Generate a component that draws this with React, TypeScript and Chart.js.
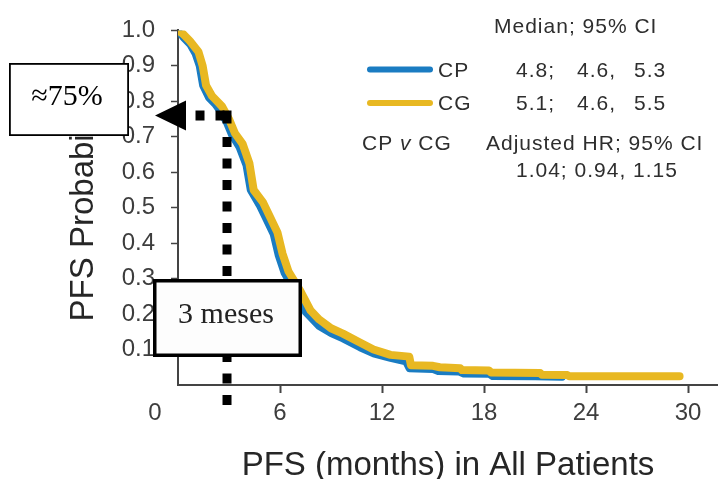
import React, { useEffect, useRef } from 'react';
import { Chart, registerables } from 'chart.js';

Chart.register(...registerables);

// ---- data ----
const CP_MONTHS = [0, 0.3, 0.7, 1.0, 1.25, 1.45, 1.8, 2.2, 2.5, 2.85, 3.15, 3.6, 4.0, 4.25, 4.8, 5.1, 5.6, 5.9, 6.25, 6.9, 7.5, 8.3, 9.0, 9.7, 10.7, 11.5, 12.5, 13.4, 13.6, 15.0, 15.3, 16.5, 16.8, 18.3, 18.5, 21.0, 22.6];
const CP_PFS = [1.0, 0.98, 0.96, 0.935, 0.9, 0.845, 0.81, 0.79, 0.77, 0.74, 0.705, 0.67, 0.62, 0.55, 0.505, 0.475, 0.425, 0.365, 0.315, 0.26, 0.205, 0.165, 0.145, 0.13, 0.105, 0.088, 0.075, 0.065, 0.046, 0.044, 0.038, 0.037, 0.031, 0.03, 0.024, 0.023, 0.022];

const CG_MONTHS = [0, 0.3, 0.7, 1.2, 1.45, 1.65, 2.0, 2.3, 2.6, 3.0, 3.35, 3.8, 4.2, 4.45, 5.0, 5.3, 5.85, 6.15, 6.5, 7.2, 7.8, 8.3, 9.0, 9.7, 10.7, 11.5, 12.5, 13.6, 13.7, 15.0, 15.4, 16.6, 16.7, 18.3, 18.4, 21.3, 21.4, 22.9, 23.0, 29.5];
const CG_PFS = [1.0, 0.99, 0.97, 0.94, 0.9, 0.845, 0.815, 0.8, 0.785, 0.75, 0.71, 0.68, 0.625, 0.55, 0.515, 0.485, 0.43, 0.37, 0.32, 0.265, 0.21, 0.185, 0.16, 0.145, 0.12, 0.1, 0.085, 0.08, 0.056, 0.054, 0.05, 0.047, 0.042, 0.041, 0.035, 0.034, 0.029, 0.028, 0.025, 0.025];

const X_TICKS = [0, 6, 12, 18, 24, 30];
const Y_TICKS = [0.1, 0.2, 0.3, 0.4, 0.5, 0.6, 0.7, 0.8, 0.9, 1.0];
const X_TITLE = 'PFS (months) in All Patients';
const Y_TITLE = 'PFS Probability';

const SERIES_NAMES = ['CP', 'CG'];
const MEDIAN_HEADER = 'Median; 95% CI';
const CP_MEDIAN = ['4.8;', '4.6,', '5.3'];
const CG_MEDIAN = ['5.1;', '4.6,', '5.5'];
const HR_HEADER = 'Adjusted HR; 95% CI';
const HR_VALUES = '1.04; 0.94, 1.15';

const MARK_MONTH = 3;
const MARK_PROB = 0.76;
const MARK_PROB_LABEL = '≈75%';
const MARK_MONTH_LABEL = '3 meses';

const BLUE = '#1a7cc2';
const GOLD = '#e8b822';
const AXIS = '#444444';
const TXT = '#2e2e2e';
const SANS = '"Liberation Sans", Arial, Helvetica, sans-serif';
const SERIF = '"Liberation Serif", "Times New Roman", serif';

const X_TICK_LEN = 8;
const X_TICK_PAD = 6;
const TICK_FONT = 24;

const overlayPlugin = {
  id: 'overlay',
  afterDraw(chart: any) {
    const { ctx, scales } = chart;
    const x = scales.x;
    const y = scales.y;
    ctx.save();

    // "0" label placed at the corner, left of the origin
    ctx.font = `${TICK_FONT}px ${SANS}`;
    ctx.fillStyle = '#3d3d3d';
    ctx.textAlign = 'center';
    ctx.textBaseline = 'middle';
    ctx.fillText(String(X_TICKS[0]), x.getPixelForValue(0) - 23, x.top + X_TICK_LEN + X_TICK_PAD + TICK_FONT * 0.6);

    // legend block
    (ctx as any).letterSpacing = '1px';
    ctx.font = `21px ${SANS}`;
    ctx.fillStyle = TXT;
    ctx.textAlign = 'left';
    ctx.textBaseline = 'alphabetic';
    ctx.fillText(MEDIAN_HEADER, 494, 33);

    ctx.lineCap = 'round';
    ctx.lineWidth = 6;
    ctx.strokeStyle = BLUE;
    ctx.beginPath(); ctx.moveTo(370, 69.5); ctx.lineTo(430, 69.5); ctx.stroke();
    ctx.strokeStyle = GOLD;
    ctx.beginPath(); ctx.moveTo(370, 103); ctx.lineTo(430, 103); ctx.stroke();

    ctx.fillText(SERIES_NAMES[0], 438, 77);
    ctx.fillText(SERIES_NAMES[1], 438, 110);
    const cols = [516, 577, 634];
    CP_MEDIAN.forEach((t, i) => ctx.fillText(t, cols[i], 77));
    CG_MEDIAN.forEach((t, i) => ctx.fillText(t, cols[i], 110));

    let cx = 362;
    const p1 = SERIES_NAMES[0] + ' ';
    ctx.fillText(p1, cx, 150);
    cx += ctx.measureText(p1).width;
    ctx.font = `italic 21px ${SANS}`;
    ctx.fillText('v', cx, 150);
    cx += ctx.measureText('v').width;
    ctx.font = `21px ${SANS}`;
    ctx.fillText(' ' + SERIES_NAMES[1], cx, 150);
    ctx.fillText(HR_HEADER, 486, 150);
    ctx.fillText(HR_VALUES, 516, 177);
    (ctx as any).letterSpacing = '0px';

    // dotted guide lines
    const vx = x.getPixelForValue(MARK_MONTH) - 2;
    const hy = y.getPixelForValue(MARK_PROB);
    ctx.fillStyle = '#000';
    ctx.fillRect(vx - 4.5, hy - 5, 9, 13);
    for (let yy = hy + 21.5; yy < x.bottom - 75; yy += 21.5) {
      ctx.fillRect(vx - 4.5, yy, 9, 10);
    }
    ctx.fillRect(vx - 11.5, hy - 5, 9, 10);
    ctx.fillRect(vx - 31.5, hy - 5, 9, 10);
    // arrow head
    ctx.beginPath();
    ctx.moveTo(vx - 72, hy);
    ctx.lineTo(vx - 41, hy - 15);
    ctx.lineTo(vx - 41, hy + 15);
    ctx.closePath();
    ctx.fill();

    // "≈75%" box
    ctx.fillStyle = '#ffffff';
    ctx.fillRect(9, 63, 120, 73);
    ctx.strokeStyle = '#000';
    ctx.lineWidth = 1.8;
    ctx.strokeRect(9.9, 63.9, 118.2, 71.2);
    ctx.fillStyle = '#000';
    ctx.font = `30px ${SERIF}`;
    ctx.textAlign = 'center';
    ctx.textBaseline = 'alphabetic';
    ctx.fillText(MARK_PROB_LABEL, 67, 105);

    // "3 meses" box
    ctx.fillStyle = '#fdfdfd';
    ctx.fillRect(153, 279, 149, 78);
    ctx.lineWidth = 3.5;
    ctx.strokeStyle = '#000';
    ctx.strokeRect(154.75, 280.75, 145.5, 74.5);
    ctx.fillStyle = '#222';
    ctx.font = `30px ${SERIF}`;
    ctx.textAlign = 'center';
    ctx.fillText(MARK_MONTH_LABEL, 226, 323);

    ctx.restore();
  },
};

export default function App() {
  const ref = useRef<HTMLCanvasElement | null>(null);

  useEffect(() => {
    if (!ref.current) return;
    const chart = new Chart(ref.current, {
      type: 'line',
      data: {
        datasets: [
          {
            label: SERIES_NAMES[0],
            data: CP_MONTHS.map((m, i) => ({ x: m, y: CP_PFS[i] })),
            borderColor: BLUE,
            borderWidth: 7,
            pointRadius: 0,
            tension: 0,
            borderCapStyle: 'round',
            borderJoinStyle: 'round',
            fill: false,
            order: 2,
          },
          {
            label: SERIES_NAMES[1],
            data: CG_MONTHS.map((m, i) => ({ x: m, y: CG_PFS[i] })),
            borderColor: GOLD,
            borderWidth: 8,
            pointRadius: 0,
            tension: 0,
            borderCapStyle: 'round',
            borderJoinStyle: 'round',
            fill: false,
            order: 1,
          },
        ],
      },
      options: {
        responsive: false,
        animation: false,
        events: [],
        layout: { padding: { top: 25, right: 0, left: 0, bottom: 0 } },
        plugins: { legend: { display: false }, tooltip: { enabled: false } },
        scales: {
          x: {
            type: 'linear',
            min: 0,
            max: 31.76,
            afterBuildTicks: (s: any) => { s.ticks = X_TICKS.map((v) => ({ value: v })); },
            afterFit: (s: any) => { s.height = 94; },
            ticks: {
              autoSkip: false,
              maxRotation: 0,
              padding: X_TICK_PAD,
              color: '#3d3d3d',
              font: { size: TICK_FONT, family: SANS },
              callback: (v: any) => (v === 0 ? '' : String(v)),
            },
            grid: {
              drawOnChartArea: false,
              drawTicks: true,
              tickLength: X_TICK_LEN,
              tickWidth: 2,
              tickColor: (c: any) => (c.tick && c.tick.value === 0 ? 'rgba(0,0,0,0)' : AXIS),
            },
            border: { display: true, color: AXIS, width: 2 },
            title: {
              display: true,
              text: X_TITLE,
              color: '#262626',
              font: { size: 33, family: SANS },
              padding: { top: 0, bottom: -7 },
            },
          },
          y: {
            type: 'linear',
            min: 0,
            max: 1,
            afterBuildTicks: (s: any) => { s.ticks = Y_TICKS.map((v) => ({ value: v })); },
            afterFit: (s: any) => { s.width = 178; },
            ticks: {
              padding: 16,
              color: '#3d3d3d',
              font: { size: TICK_FONT, family: SANS },
              callback: (v: any) => Number(v).toFixed(1),
            },
            grid: {
              drawOnChartArea: false,
              drawTicks: true,
              tickLength: 7,
              tickWidth: 1.5,
              tickColor: AXIS,
            },
            border: { display: true, color: AXIS, width: 2 },
            title: {
              display: true,
              text: Y_TITLE,
              color: '#262626',
              font: { size: 33, family: SANS },
              padding: { top: 64, bottom: 0 },
            },
          },
        },
      },
      plugins: [overlayPlugin],
    } as any);
    return () => chart.destroy();
  }, []);

  return (
    <div style={{ position: 'absolute', left: 0, top: 0, width: 718, height: 479, background: '#fff' }}>
      <canvas ref={ref} width={718} height={479} style={{ display: 'block' }} />
    </div>
  );
}
